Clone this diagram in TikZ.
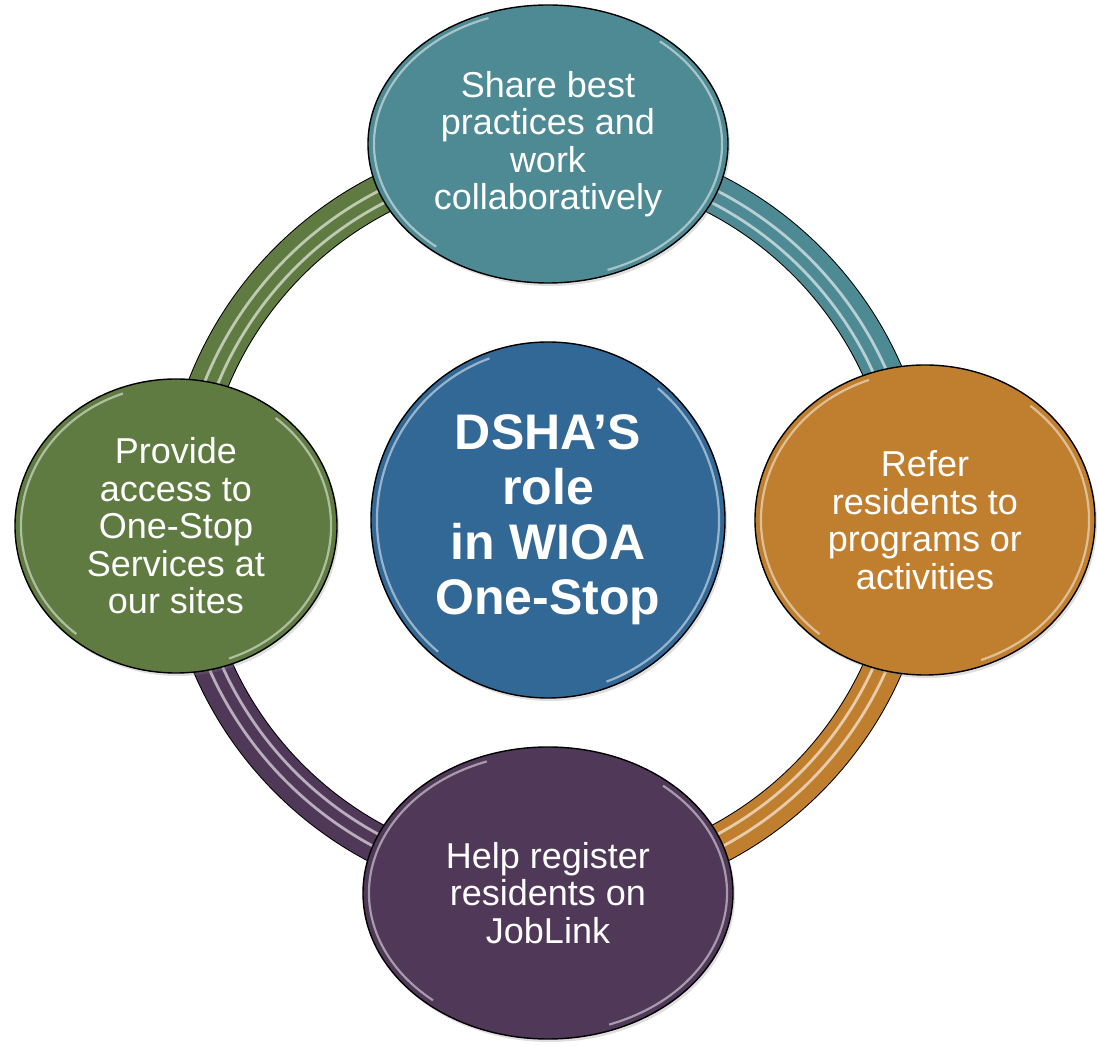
\documentclass[tikz,border=0pt]{standalone}
\usepackage{fontspec}
\setmainfont{Liberation Sans}
\usetikzlibrary{shapes.geometric,shadows}

\definecolor{tealbub}{RGB}{78,138,147}
\definecolor{orangebub}{RGB}{192,127,46}
\definecolor{greenbub}{RGB}{95,123,65}
\definecolor{purplebub}{RGB}{80,56,88}
\definecolor{bluebub}{RGB}{50,104,150}

\tikzset{
  bubble/.style={ellipse, draw=black, line width=0.7pt, text=white, align=center,
    inner sep=0pt, font=\fontsize{18}{18.75}\selectfont,
    drop shadow={opacity=0.25, shadow xshift=1pt, shadow yshift=-1.5pt}},
  gloss/.style={white, opacity=0.5, line width=1.1pt},
}

\begin{document}
\begin{tikzpicture}[x=0.5pt, y=0.5pt]
  \useasboundingbox (0,0) rectangle (1098,1045);
  \coordinate (hub) at (548,525);

  % ring between the bubbles
  \draw[line width=20pt] (hub) circle [radius=366];
  \foreach \a/\c in {90/greenbub, 0/tealbub, -90/orangebub, -180/purplebub} {
    \draw[line width=19pt, \c] (hub) ++(\a+90:366) arc [start angle=\a+90, end angle=\a, radius=366];
    \draw[line width=1.4pt, \c!40!white] (hub) ++(\a+90:357) arc [start angle=\a+90, end angle=\a, radius=357];
    \draw[line width=1.4pt, \c!40!white] (hub) ++(\a+90:370) arc [start angle=\a+90, end angle=\a, radius=370];
  }

  \node[bubble, fill=bluebub, minimum width=177pt, minimum height=178pt,
    font=\bfseries\fontsize{25}{27.5}\selectfont] (role) at (hub) {DSHA’S\\role\\in WIOA\\One-Stop};
  \node[bubble, fill=tealbub, minimum width=180pt, minimum height=139pt] (share) at (548,901)
    {Share best\\practices and\\work\\collaboratively};
  \node[bubble, fill=orangebub, minimum width=170pt, minimum height=155pt] (refer) at (925,525)
    {Refer\\residents to\\programs or\\activities};
  \node[bubble, fill=purplebub, minimum width=185pt, minimum height=146pt] (help) at (548,152)
    {Help register\\residents on\\JobLink};
  \node[bubble, fill=greenbub, minimum width=161pt, minimum height=147pt] (provide) at (176,519)
    {Provide\\access to\\One-Stop\\Services at\\our sites};

  % bevel highlights
  \foreach \n/\rx/\ry in {role/171/172, share/174/134, refer/164/149, help/179/140, provide/155/141} {
    \draw[gloss] ([shift={({\rx*cos(110)},{\ry*sin(110)})}]\n.center) arc [start angle=110, end angle=230, x radius=\rx, y radius=\ry];
    \draw[gloss] ([shift={({\rx*cos(-70)},{\ry*sin(-70)})}]\n.center) arc [start angle=-70, end angle=50, x radius=\rx, y radius=\ry];
  }
\end{tikzpicture}
\end{document}
